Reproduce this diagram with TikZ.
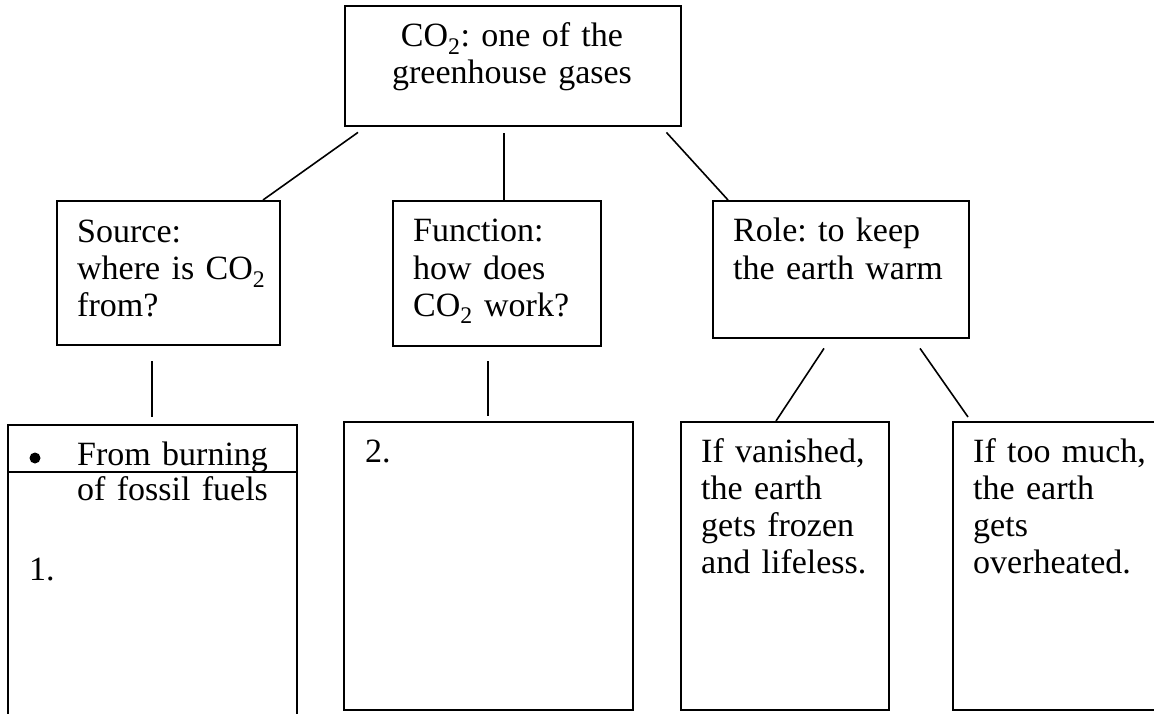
\documentclass[tikz,border=0pt]{standalone}
\usepackage{fontspec}
\setmainfont{Liberation Serif}
\usetikzlibrary{calc}
\frenchspacing
\begin{document}
\begin{tikzpicture}[x=1pt,y=-1pt,
  box/.style={draw, line width=2.4pt, rectangle, inner sep=0pt, anchor=north west},
  link/.style={line width=1.6pt},
  txt/.style={anchor=base west, inner sep=0pt, align=left, text width=400pt,
    font=\fontsize{34}{37}\selectfont},
]
\useasboundingbox (0,0) rectangle (1154,714);
\clip (0,0) rectangle (1154,714);

% boxes
\node[box, minimum width=336pt, minimum height=120pt] (top) at (344,5) {};
\node[box, minimum width=223pt, minimum height=144pt] (src) at (56,200) {};
\node[box, minimum width=208pt, minimum height=145pt] (fn) at (392,200) {};
\node[box, minimum width=256pt, minimum height=137pt] (role) at (712,200) {};
\node[box, minimum width=289pt, minimum height=300pt] (lb) at (7,424) {};
\node[box, minimum width=289pt, minimum height=288pt] (mid) at (343,421) {};
\node[box, minimum width=208pt, minimum height=288pt] (cold) at (680,421) {};
\node[box, minimum width=208pt, minimum height=288pt] (hot) at (952,421) {};

% row rule inside the first answer box
\draw[line width=2.4pt] ($(lb.north west)+(0,48)$) -- ($(lb.north east)+(0,48)$);

% texts
\node[txt, anchor=base, text width=336pt, align=center] (ttop) at (512,47)
  {CO\textsubscript{2}: one of the\\greenhouse gases};
\node[txt] (tsrc) at (77,243) {Source:\\where is CO\textsubscript{2}\\from?};
\node[txt] (tfn) at (413,242) {Function:\\how does\\CO\textsubscript{2} work?};
\node[txt] (trole) at (733,242) {Role: to keep\\the earth warm};
\node[circle, fill, inner sep=0pt, minimum size=11pt] (bul) at (35,458) {};
\node[txt] (tlb) at (77,465) {From burning\\[-2pt]of fossil fuels};
\node[txt] (one) at (29,580) {1.};
\node[txt] (two) at (365,462) {2.};
\node[txt] (tcold) at (701,462) {If vanished,\\the earth\\gets frozen\\and lifeless.};
\node[txt] (thot) at (973,462) {If too much,\\the earth\\gets\\overheated.};

% connectors
\draw[link] ($(top.south west)+(14,5)$) -- ($(src.north west)+(207,0)$);
\draw[link] ($(top.south west)+(160,6)$) -- ($(fn.north west)+(112,0)$);
\draw[link] ($(top.south east)+(-16,5)$) -- ($(role.north west)+(16,0)$);
\draw[link] ($(src.south west)+(96,15)$) -- ($(lb.north west)+(145,-7)$);
\draw[link] ($(fn.south west)+(96,14)$) -- ($(mid.north west)+(145,-5)$);
\draw[link] ($(role.south west)+(112,9)$) -- ($(cold.north west)+(96,0)$);
\draw[link] ($(role.south west)+(208,9)$) -- ($(hot.north west)+(16,-4)$);
\end{tikzpicture}
\end{document}
